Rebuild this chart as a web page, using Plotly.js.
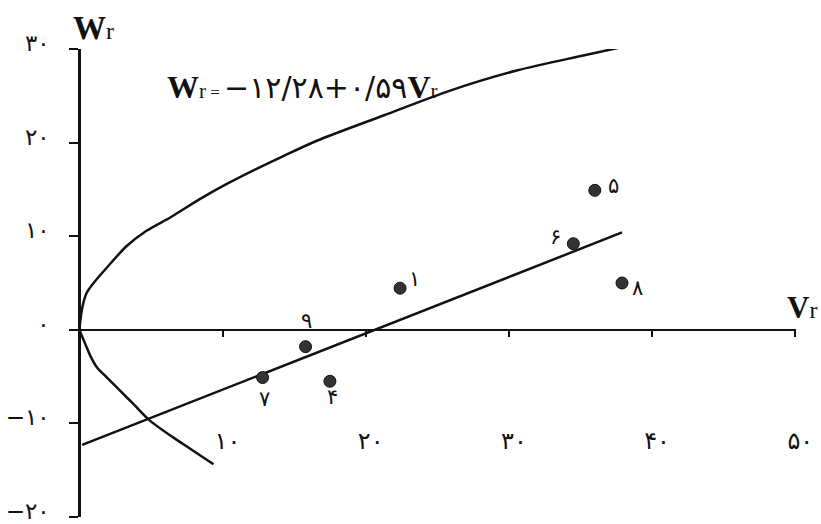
<!DOCTYPE html>
<html>
<head>
<meta charset="utf-8">
<script src="https://cdn.plot.ly/plotly-3.0.1.min.js"></script>
<style>
  body { margin: 0; background: white; }
  #chart { width: 821px; height: 524px; }
</style>
</head>
<body>
<div id="chart"></div>
<script>
// observed points (Vr, Wr) and their numbers
var pointV = [22.4, 17.5, 36.0, 34.5, 12.8, 37.9, 15.8];
var pointW = [4.45, -5.5, 14.9, 9.2, -5.1, 5.0, -1.8];
var pointLabels = ['۱', '۴', '۵', '۶', '۷', '۸', '۹'];

// fitted line Wr = -12.28 + 0.59 Vr, ends
var lineV = [0.2, 37.9];
var lineW = [-12.3, 10.4];

// upper envelope curve
var upperV = [0, 0.2, 0.5, 1.0, 1.93, 3.33, 4.72, 6.35, 8.44, 10.3, 12.6, 14.03, 16.59, 21.24, 25.9, 30.54, 35.19, 37.87];
var upperW = [0, 2.3, 3.9, 5.0, 6.66, 8.98, 10.6, 12.0, 13.98, 15.58, 17.36, 18.4, 20.2, 22.9, 25.56, 27.7, 29.3, 30.2];

// lower curve
var lowerV = [0, 0.42, 0.77, 1.24, 1.93, 2.86, 3.79, 4.95, 6.58, 7.98, 9.37];
var lowerW = [0, -1.53, -2.78, -4.03, -5.1, -6.52, -7.95, -9.73, -11.52, -12.94, -14.36];

// axis ticks
var xTicks = [10, 20, 30, 40, 50];
var xTickText = ['۱۰', '۲۰', '۳۰', '۴۰', '۵۰'];
var yTicks = [-20, -10, 0, 10, 20, 30];
var yTickText = ['−۲۰', '−۱۰', '۰', '۱۰', '۲۰', '۳۰'];

// label offsets from their point, in px (styling only)
var labelShift = [[14, -9], [3, 16], [19, -4], [-18, -7], [2, 21], [15, 5], [1, -26]];

var digitFont = 'DejaVu Sans, Noto Sans';
var serifFont = 'Liberation Serif, DejaVu Sans';

var traces = [
  {
    x: upperV, y: upperW, type: 'scatter', mode: 'lines',
    line: { color: '#111', width: 2.5, shape: 'spline', smoothing: 0.8 },
    hoverinfo: 'skip'
  },
  {
    x: lowerV, y: lowerW, type: 'scatter', mode: 'lines',
    line: { color: '#111', width: 2.5, shape: 'spline', smoothing: 0.8 },
    hoverinfo: 'skip'
  },
  {
    x: lineV, y: lineW, type: 'scatter', mode: 'lines',
    line: { color: '#111', width: 2.5 }
  },
  {
    x: pointV, y: pointW, type: 'scatter', mode: 'markers',
    marker: { color: '#333', size: 12, line: { color: '#111', width: 1 } }
  }
];

var annotations = [];
for (var i = 0; i < pointLabels.length; i++) {
  annotations.push({
    x: pointV[i], y: pointW[i], xref: 'x', yref: 'y',
    text: pointLabels[i], showarrow: false,
    xshift: labelShift[i][0], yshift: -labelShift[i][1],
    font: { family: digitFont, size: 21, color: '#111' }
  });
}

// axis names
annotations.push({
  x: 0.032, y: 1.045, xref: 'paper', yref: 'paper', xanchor: 'center', yanchor: 'middle',
  text: '<b>W</b><span style="font-size:24px">r</span>', showarrow: false,
  font: { family: serifFont, size: 33, color: '#111' }
});
annotations.push({
  x: 1.008, y: 0.447, xref: 'paper', yref: 'paper', xanchor: 'center', yanchor: 'middle',
  text: '<b>V</b><span style="font-size:24px">r</span>', showarrow: false,
  font: { family: serifFont, size: 31, color: '#111' }
});

// regression equation
annotations.push({
  x: 0.131, y: 0.919, xref: 'paper', yref: 'paper', xanchor: 'left', yanchor: 'middle',
  text: '<b>W</b><span style="font-size:21px">r</span><span style="font-size:17px"> = </span>' +
        '<span style="font-family:DejaVu Sans;font-size:30px">−۱۲/۲۸+۰/۵۹</span>' +
        '<b>V</b><span style="font-size:21px">r</span>',
  showarrow: false,
  font: { family: serifFont, size: 32, color: '#111' }
});

var layout = {
  width: 821,
  height: 524,
  margin: { l: 70, r: 25, t: 49, b: 7 },
  paper_bgcolor: 'white',
  plot_bgcolor: 'white',
  showlegend: false,
  xaxis: {
    range: [-0.65, 50.05],
    anchor: 'free',
    position: 0.4,
    showline: true,
    linecolor: '#111',
    linewidth: 2.5,
    ticks: 'outside',
    ticklen: 6,
    tickwidth: 2,
    tickcolor: '#111',
    tickvals: xTicks,
    ticktext: xTickText,
    ticklabelstandoff: 83,
    ticklabelshift: 5,
    ticklabeloverflow: 'allow',
    tickfont: { family: digitFont, size: 24, color: '#111' },
    showgrid: false,
    zeroline: false
  },
  yaxis: {
    range: [-20, 30],
    anchor: 'free',
    position: 0.65 / 50.7,
    showline: true,
    linecolor: '#111',
    linewidth: 2.5,
    ticks: 'outside',
    ticklen: 9,
    tickwidth: 2,
    tickcolor: '#111',
    tickvals: yTicks,
    ticktext: yTickText,
    ticklabelstandoff: 15,
    ticklabelshift: -6,
    ticklabeloverflow: 'allow',
    tickfont: { family: digitFont, size: 23, color: '#111' },
    showgrid: false,
    zeroline: false
  },
  annotations: annotations
};

Plotly.newPlot('chart', traces, layout, { displayModeBar: false, staticPlot: true });
</script>
</body>
</html>
